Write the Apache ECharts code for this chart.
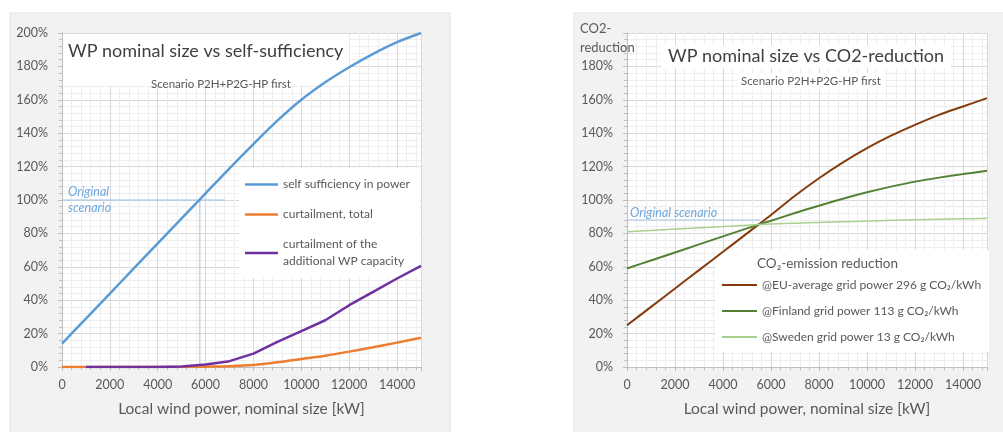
<!DOCTYPE html>
<html><head><meta charset="utf-8">
<script src="https://cdn.jsdelivr.net/npm/echarts@6/dist/echarts.min.js"></script>
<style>html,body{margin:0;padding:0;background:#fff}#c{width:1003px;height:432px}</style>
</head><body><div id="c"></div>
<script>
// ---- data ----
const windKW = [0,1000,2000,3000,4000,5000,6000,7000,8000,9000,10000,11000,12000,13000,14000,15000];
const selfSufficiency = [14,29,44,59,74,89,104,119,133.5,147.5,160,170.5,179.5,187.5,194.5,200];
const curtailTotal = [0,0,0,0,0,0,0.2,0.5,1.2,2.8,4.8,6.8,9.2,11.8,14.6,17.5];
const curtailAdditional = [null,0,0,0,0,0.3,1.5,3.5,8,15,21.5,28,37,45,53,60.5];
const co2EU = [25,36,47,58,69,80,91,102.5,113,122.5,131,138.5,145,151,156,161];
const co2Finland = [59,63.8,68.6,73.4,78.2,83,87.6,92.2,96.6,100.8,104.6,108,111,113.4,115.5,117.5];
const co2Sweden = [81,81.8,82.6,83.4,84.1,84.9,85.6,86.1,86.6,87,87.4,87.8,88.1,88.4,88.7,89];
const origLeftH = [[0,100],[6800,100]];
const origLeftV = [[5760,0],[5760,100]];
const origRightH = [[0,88],[5540,88]];
const xMin = 0, xMax = 15000, xStep = 2000;
const yMin = 0, yMax = 200, yStep = 20;

const namesLeft = ['self sufficiency in power','curtailment, total','curtailment of the\nadditional WP capacity'];
const namesRight = ['@EU-average grid power 296 g CO\u2082/kWh','@Finland grid power 113 g CO\u2082/kWh','@Sweden grid power 13 g CO\u2082/kWh'];

const pair = arr => windKW.map((x,i)=>[x,arr[i]]);
const FONT = 'Lato, "Liberation Sans", sans-serif';
const TXT = '#595959';

function xAxisCfg(gi){
  return {type:'value', gridIndex:gi, min:xMin, max:xMax, interval:xStep,
    name:'Local wind power, nominal size [kW]', nameLocation:'middle', nameGap:34,
    nameTextStyle:{fontFamily:FONT,fontSize:15.5,color:TXT},
    axisLine:{show:true,lineStyle:{color:'#bfbfbf'}},
    axisTick:{show:true,length:4,lineStyle:{color:'#bfbfbf'}},
    minorTick:{show:true,splitNumber:5,length:3,lineStyle:{color:'#bfbfbf'}},
    axisLabel:{fontFamily:FONT,fontSize:12.5,color:TXT,margin:11,showMaxLabel:false,formatter:v=>String(v)},
    splitLine:{show:true,lineStyle:{color:'#d9d9d9'}},
    minorSplitLine:{show:true,lineStyle:{color:'#eeeeee'}}};
}
function yAxisCfg(gi, hideMax){
  return {type:'value', gridIndex:gi, min:yMin, max:yMax, interval:yStep,
    axisLine:{show:true,lineStyle:{color:'#bfbfbf'}},
    axisTick:{show:true,length:4,lineStyle:{color:'#bfbfbf'}},
    minorTick:{show:true,splitNumber:5,length:3,lineStyle:{color:'#bfbfbf'}},
    axisLabel:{fontFamily:FONT,fontSize:12.5,color:TXT,margin:14,formatter:'{value}%',showMaxLabel:!hideMax},
    splitLine:{show:true,lineStyle:{color:'#d9d9d9'}},
    minorSplitLine:{show:true,lineStyle:{color:'#eeeeee'}}};
}
function line(name, data, color, width, gi, smooth){
  return {type:'line', name, data, xAxisIndex:gi, yAxisIndex:gi, showSymbol:false, symbol:'none',
    smooth: smooth, lineStyle:{color, width}, itemStyle:{color}, connectNulls:false, z:10};
}
function refLine(data, gi){
  return {type:'line', data, xAxisIndex:gi, yAxisIndex:gi, symbol:'none', silent:true,
    lineStyle:{color:'#9dc3e6', width:1}, z:2};
}

const chart = echarts.init(document.getElementById('c'));
chart.setOption({
  animation:false,
  backgroundColor:'#fff',
  graphic:[
    {type:'rect', z:-10, shape:{x:10,y:13,width:440,height:420}, style:{fill:'#f2f2f2',stroke:'#e2e2e2'}},
    {type:'rect', z:-10, shape:{x:574,y:13,width:430,height:420}, style:{fill:'#f2f2f2',stroke:'#e2e2e2'}}
  ],
  grid:[
    {left:62, right:582, top:33, bottom:65, show:true, backgroundColor:'#fff', borderWidth:0},
    {left:627, right:16, top:33, bottom:65, show:true, backgroundColor:'#fff', borderWidth:0}
  ],
  xAxis:[xAxisCfg(0), xAxisCfg(1)],
  yAxis:[yAxisCfg(0,false), yAxisCfg(1,true)],
  title:[
    {text:'WP nominal size vs self-sufficiency', left:63, top:34, padding:[8,6,26,5], backgroundColor:'#fff',
      textStyle:{fontFamily:FONT,fontSize:18,fontWeight:'normal',color:'#404040'}},
    {text:'Scenario P2H+P2G-HP first', left:146, top:73,
      textStyle:{fontFamily:FONT,fontSize:11.5,fontWeight:'normal',color:TXT}},
    {text:'Original\nscenario', left:68, top:184, padding:0,
      textStyle:{fontFamily:FONT,fontSize:12.5,fontStyle:'italic',fontWeight:'normal',color:'#6fa8dc',lineHeight:16}},
    {text:'CO2-\nreduction', left:580, top:19, padding:0,
      textStyle:{fontFamily:FONT,fontSize:13,fontWeight:'normal',color:TXT,lineHeight:19}},
    {text:'WP nominal size vs CO2-reduction', left:661, top:45, padding:[2,7,3,7], backgroundColor:'#fff',
      textStyle:{fontFamily:FONT,fontSize:18,fontWeight:'normal',color:'#404040'}},
    {text:'Scenario P2H+P2G-HP first', left:737, top:73, padding:[2,4,3,4], backgroundColor:'#fff',
      textStyle:{fontFamily:FONT,fontSize:11.5,fontWeight:'normal',color:TXT}},
    {text:'Original scenario', left:630, top:206, padding:0,
      textStyle:{fontFamily:FONT,fontSize:12.5,fontStyle:'italic',fontWeight:'normal',color:'#6fa8dc'}},
    {text:'CO\u2082-emission reduction', left:757, top:257, padding:0,
      textStyle:{fontFamily:FONT,fontSize:13.5,fontWeight:'normal',color:TXT}}
  ],
  legend:[
    {data:namesLeft, orient:'vertical', left:239, top:168, padding:[8,10,8,6], backgroundColor:'#fff',
      itemWidth:33, itemHeight:2.5, icon:'rect', itemGap:13,
      textStyle:{fontFamily:FONT,fontSize:12,color:TXT,lineHeight:17}},
    {data:namesRight, orient:'vertical', left:716, top:250, padding:[29,8,9,6], backgroundColor:'#fff',
      itemWidth:35, itemHeight:2, icon:'rect', itemGap:14,
      textStyle:{fontFamily:FONT,fontSize:12,color:TXT}}
  ],
  series:[
    refLine(origLeftH,0), refLine(origLeftV,0),
    line(namesLeft[0], pair(selfSufficiency), '#5b9bd5', 2.5, 0, 0.3),
    line(namesLeft[1], pair(curtailTotal), '#ed7d31', 2.5, 0, 0.3),
    line(namesLeft[2], pair(curtailAdditional), '#7030a0', 2.5, 0, false),
    refLine(origRightH,1),
    line(namesRight[0], pair(co2EU), '#843c0c', 2, 1, 0.3),
    line(namesRight[1], pair(co2Finland), '#548235', 2, 1, 0.3),
    line(namesRight[2], pair(co2Sweden), '#a9d18e', 1.5, 1, 0.3)
  ]
});
</script></body></html>
